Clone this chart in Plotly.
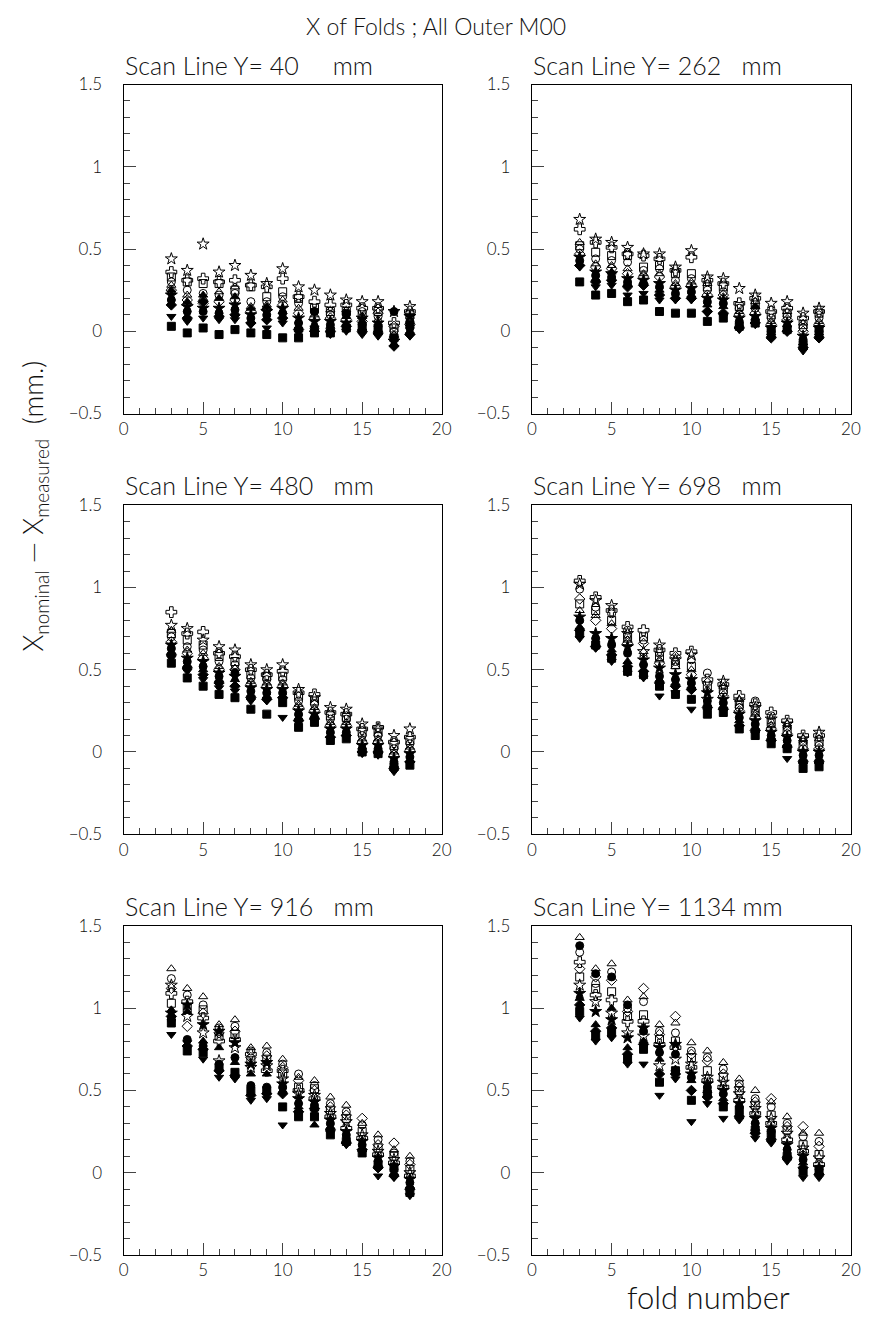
import plotly.graph_objects as go

W, H = 877, 1323

folds = list(range(3, 19))

panel_titles = ["Scan Line Y= 40\u00a0\u00a0\u00a0\u00a0\u00a0mm", "Scan Line Y= 262\u00a0\u00a0\u00a0mm",
                "Scan Line Y= 480\u00a0\u00a0\u00a0mm", "Scan Line Y= 698\u00a0\u00a0\u00a0mm",
                "Scan Line Y= 916\u00a0\u00a0\u00a0mm", "Scan Line Y= 1134 mm"]

marker_symbols = ["star-open", "cross-open", "square-open", "circle-open", "triangle-up-open",
                  "diamond-open", "star", "circle", "triangle-up", "diamond", "triangle-down", "square"]

# ---- Scan line Y = 40 mm ----
y40_star_open = [0.44, 0.37, 0.53, 0.36, 0.40, 0.34, 0.29, 0.38, 0.27, 0.25, 0.22, 0.19, 0.18, 0.18, 0.12, 0.15]
y40_cross_open = [0.36, 0.31, 0.32, 0.30, 0.31, 0.28, 0.27, 0.32, 0.21, 0.18, 0.16, 0.16, 0.14, 0.14, 0.05, 0.12]
y40_square_open = [0.33, 0.30, 0.29, 0.29, 0.25, 0.27, 0.21, 0.24, 0.20, 0.14, 0.12, 0.12, 0.10, 0.12, 0.02, 0.10]
y40_circle_open = [0.30, 0.25, 0.23, 0.22, 0.23, 0.18, 0.18, 0.21, 0.17, 0.12, 0.10, 0.10, 0.12, 0.09, 0.00, 0.08]
y40_tri_open = [0.28, 0.22, 0.20, 0.24, 0.27, 0.15, 0.16, 0.19, 0.14, 0.10, 0.13, 0.13, 0.09, 0.07, -0.02, 0.06]
y40_diamond_open = [0.25, 0.19, 0.17, 0.18, 0.19, 0.12, 0.13, 0.16, 0.11, 0.08, 0.08, 0.07, 0.06, 0.11, 0.03, 0.04]
y40_star = [0.22, 0.15, 0.14, 0.14, 0.16, 0.10, 0.12, 0.14, 0.08, 0.06, 0.06, 0.05, 0.08, 0.05, -0.06, 0.09]
y40_circle = [0.19, 0.12, 0.12, 0.11, 0.13, 0.08, 0.10, 0.11, 0.05, 0.12, 0.04, 0.11, 0.04, 0.03, 0.12, 0.02]
y40_tri = [0.25, 0.18, 0.22, 0.20, 0.21, 0.14, 0.15, 0.12, 0.03, 0.03, 0.03, 0.09, 0.02, 0.01, -0.08, 0.00]
y40_diamond = [0.16, 0.08, 0.18, 0.09, 0.10, 0.05, 0.07, 0.08, 0.01, 0.00, 0.00, 0.03, 0.00, -0.01, -0.09, -0.02]
y40_tri_down = [0.09, 0.06, 0.08, 0.07, 0.07, 0.04, 0.02, 0.05, -0.01, 0.02, -0.02, 0.00, -0.02, -0.03, -0.05, -0.03]
y40_square = [0.03, -0.01, 0.02, -0.02, 0.01, -0.01, -0.02, -0.04, -0.04, -0.01, -0.01, 0.02, 0.03, 0.02, -0.04, 0.04]

# ---- Scan line Y = 262 mm ----
y262_star_open = [0.68, 0.56, 0.54, 0.51, 0.47, 0.47, 0.39, 0.49, 0.33, 0.32, 0.26, 0.22, 0.17, 0.18, 0.11, 0.14]
y262_cross_open = [0.62, 0.54, 0.51, 0.47, 0.46, 0.44, 0.37, 0.45, 0.31, 0.29, 0.17, 0.20, 0.12, 0.14, 0.08, 0.12]
y262_square_open = [0.52, 0.48, 0.46, 0.46, 0.39, 0.40, 0.35, 0.35, 0.27, 0.27, 0.15, 0.16, 0.10, 0.11, 0.04, 0.11]
y262_circle_open = [0.50, 0.44, 0.43, 0.42, 0.37, 0.38, 0.31, 0.32, 0.25, 0.24, 0.14, 0.14, 0.08, 0.09, 0.02, 0.08]
y262_tri_open = [0.54, 0.41, 0.40, 0.38, 0.35, 0.35, 0.29, 0.30, 0.29, 0.21, 0.12, 0.18, 0.06, 0.12, 0.05, 0.06]
y262_diamond_open = [0.47, 0.39, 0.38, 0.35, 0.33, 0.33, 0.27, 0.28, 0.22, 0.22, 0.10, 0.11, 0.04, 0.07, 0.00, 0.04]
y262_star = [0.45, 0.36, 0.35, 0.32, 0.31, 0.29, 0.25, 0.26, 0.20, 0.19, 0.08, 0.09, 0.02, 0.05, -0.03, 0.02]
y262_circle = [0.43, 0.34, 0.33, 0.30, 0.29, 0.27, 0.23, 0.24, 0.18, 0.17, 0.06, 0.07, 0.00, 0.03, -0.05, 0.00]
y262_tri = [0.41, 0.32, 0.36, 0.29, 0.30, 0.25, 0.21, 0.22, 0.16, 0.15, 0.04, 0.15, -0.02, 0.01, -0.07, -0.02]
y262_diamond = [0.40, 0.30, 0.31, 0.27, 0.28, 0.22, 0.20, 0.20, 0.12, 0.11, 0.02, 0.05, -0.04, 0.00, -0.10, -0.04]
y262_tri_down = [0.39, 0.27, 0.28, 0.22, 0.23, 0.19, 0.19, 0.19, 0.11, 0.09, 0.01, 0.04, -0.03, 0.02, -0.12, -0.03]
y262_square = [0.30, 0.22, 0.23, 0.18, 0.19, 0.12, 0.11, 0.11, 0.06, 0.08, 0.03, 0.05, 0.01, 0.01, -0.08, 0.01]

# ---- Scan line Y = 480 mm ----
y480_star_open = [0.77, 0.75, 0.68, 0.64, 0.62, 0.53, 0.50, 0.53, 0.38, 0.33, 0.27, 0.26, 0.17, 0.14, 0.10, 0.14]
y480_cross_open = [0.85, 0.72, 0.73, 0.60, 0.58, 0.50, 0.47, 0.49, 0.36, 0.35, 0.24, 0.23, 0.14, 0.15, 0.06, 0.09]
y480_square_open = [0.72, 0.68, 0.65, 0.58, 0.55, 0.47, 0.46, 0.46, 0.34, 0.31, 0.22, 0.21, 0.12, 0.12, 0.04, 0.07]
y480_circle_open = [0.70, 0.64, 0.62, 0.55, 0.53, 0.45, 0.44, 0.44, 0.31, 0.29, 0.20, 0.20, 0.10, 0.10, 0.02, 0.05]
y480_tri_open = [0.74, 0.62, 0.60, 0.52, 0.51, 0.43, 0.42, 0.42, 0.29, 0.27, 0.18, 0.18, 0.08, 0.08, 0.00, 0.03]
y480_diamond_open = [0.67, 0.60, 0.57, 0.50, 0.50, 0.41, 0.40, 0.40, 0.27, 0.25, 0.16, 0.16, 0.06, 0.06, -0.02, 0.01]
y480_star = [0.65, 0.57, 0.55, 0.48, 0.46, 0.39, 0.38, 0.38, 0.25, 0.23, 0.14, 0.14, 0.04, 0.04, -0.04, -0.01]
y480_circle = [0.63, 0.55, 0.52, 0.46, 0.48, 0.37, 0.36, 0.36, 0.23, 0.21, 0.12, 0.12, 0.02, 0.02, -0.06, -0.03]
y480_tri = [0.61, 0.53, 0.50, 0.44, 0.44, 0.35, 0.34, 0.34, 0.21, 0.22, 0.10, 0.11, 0.01, 0.01, -0.08, -0.05]
y480_diamond = [0.59, 0.51, 0.47, 0.42, 0.40, 0.33, 0.32, 0.33, 0.19, 0.20, 0.09, 0.10, 0.00, 0.00, -0.10, -0.06]
y480_tri_down = [0.57, 0.49, 0.44, 0.39, 0.37, 0.31, 0.31, 0.21, 0.18, 0.19, 0.08, 0.09, -0.01, -0.02, -0.12, -0.07]
y480_square = [0.54, 0.45, 0.40, 0.35, 0.33, 0.26, 0.23, 0.30, 0.15, 0.18, 0.07, 0.08, 0.00, -0.01, -0.09, -0.08]

# ---- Scan line Y = 698 mm ----
y698_star_open = [1.02, 0.92, 0.89, 0.72, 0.61, 0.65, 0.56, 0.59, 0.32, 0.43, 0.31, 0.27, 0.20, 0.17, 0.08, 0.12]
y698_cross_open = [1.04, 0.94, 0.86, 0.76, 0.74, 0.62, 0.60, 0.61, 0.44, 0.41, 0.34, 0.29, 0.24, 0.19, 0.10, 0.10]
y698_square_open = [0.90, 0.86, 0.80, 0.70, 0.70, 0.58, 0.53, 0.52, 0.40, 0.38, 0.29, 0.25, 0.18, 0.13, 0.04, 0.06]
y698_circle_open = [0.99, 0.88, 0.84, 0.74, 0.68, 0.60, 0.55, 0.56, 0.48, 0.36, 0.27, 0.31, 0.22, 0.15, 0.06, 0.04]
y698_tri_open = [0.86, 0.83, 0.78, 0.68, 0.61, 0.56, 0.52, 0.50, 0.38, 0.40, 0.32, 0.23, 0.16, 0.17, 0.08, 0.08]
y698_diamond_open = [0.93, 0.80, 0.75, 0.66, 0.66, 0.54, 0.58, 0.47, 0.42, 0.34, 0.25, 0.21, 0.14, 0.11, 0.02, 0.02]
y698_star = [0.82, 0.72, 0.69, 0.64, 0.56, 0.51, 0.47, 0.44, 0.36, 0.32, 0.23, 0.19, 0.12, 0.09, 0.00, 0.00]
y698_circle = [0.80, 0.69, 0.65, 0.60, 0.53, 0.46, 0.44, 0.42, 0.31, 0.30, 0.21, 0.17, 0.10, 0.07, -0.02, -0.02]
y698_tri = [0.76, 0.66, 0.62, 0.55, 0.50, 0.44, 0.42, 0.40, 0.29, 0.28, 0.19, 0.15, 0.09, 0.05, -0.04, -0.04]
y698_diamond = [0.74, 0.64, 0.59, 0.52, 0.49, 0.42, 0.40, 0.38, 0.27, 0.26, 0.16, 0.13, 0.07, 0.03, -0.06, -0.06]
y698_tri_down = [0.69, 0.63, 0.55, 0.48, 0.45, 0.34, 0.36, 0.26, 0.25, 0.25, 0.15, 0.11, 0.06, -0.04, -0.08, -0.08]
y698_square = [0.72, 0.65, 0.57, 0.49, 0.47, 0.40, 0.35, 0.32, 0.23, 0.24, 0.14, 0.10, 0.05, 0.02, -0.10, -0.09]

# ---- Scan line Y = 916 mm ----
y916_star_open = [1.14, 0.95, 0.85, 0.68, 0.76, 0.64, 0.65, 0.57, 0.48, 0.47, 0.36, 0.31, 0.23, 0.13, 0.08, 0.00]
y916_cross_open = [1.09, 1.04, 0.94, 0.80, 0.81, 0.72, 0.62, 0.62, 0.50, 0.45, 0.34, 0.27, 0.21, 0.11, 0.06, -0.02]
y916_square_open = [1.03, 1.00, 0.99, 0.83, 0.84, 0.68, 0.69, 0.60, 0.52, 0.51, 0.38, 0.33, 0.25, 0.15, 0.10, 0.02]
y916_circle_open = [1.18, 1.08, 1.02, 0.88, 0.89, 0.74, 0.73, 0.66, 0.60, 0.53, 0.42, 0.37, 0.29, 0.20, 0.12, 0.07]
y916_tri_open = [1.24, 1.12, 1.07, 0.90, 0.93, 0.76, 0.77, 0.69, 0.58, 0.56, 0.46, 0.41, 0.30, 0.23, 0.14, 0.10]
y916_diamond_open = [1.12, 0.89, 0.97, 0.85, 0.86, 0.70, 0.71, 0.64, 0.56, 0.50, 0.40, 0.35, 0.33, 0.17, 0.18, 0.05]
y916_star = [0.97, 1.02, 0.90, 0.86, 0.79, 0.66, 0.67, 0.54, 0.45, 0.43, 0.32, 0.25, 0.19, 0.09, 0.04, -0.04]
y916_circle = [0.93, 0.81, 0.77, 0.66, 0.70, 0.53, 0.52, 0.52, 0.42, 0.41, 0.30, 0.23, 0.17, 0.07, 0.02, -0.06]
y916_tri = [0.99, 0.98, 0.80, 0.76, 0.67, 0.60, 0.60, 0.50, 0.40, 0.29, 0.28, 0.20, 0.15, 0.05, 0.00, -0.08]
y916_diamond = [0.95, 0.77, 0.75, 0.62, 0.59, 0.47, 0.48, 0.48, 0.37, 0.39, 0.26, 0.18, 0.14, 0.03, -0.02, -0.10]
y916_tri_down = [0.84, 0.79, 0.69, 0.58, 0.57, 0.44, 0.45, 0.29, 0.36, 0.37, 0.24, 0.17, 0.12, -0.02, -0.03, -0.14]
y916_square = [0.91, 0.74, 0.73, 0.64, 0.61, 0.50, 0.50, 0.40, 0.34, 0.34, 0.23, 0.19, 0.12, 0.05, 0.03, -0.12]

# ---- Scan line Y = 1134 mm ----
y1134_star_open = [1.14, 1.04, 0.97, 0.85, 0.83, 0.65, 0.69, 0.66, 0.58, 0.55, 0.48, 0.39, 0.33, 0.24, 0.15, 0.09]
y1134_cross_open = [1.28, 1.08, 1.05, 0.92, 0.92, 0.78, 0.76, 0.64, 0.56, 0.52, 0.44, 0.36, 0.30, 0.20, 0.13, 0.05]
y1134_square_open = [1.19, 1.12, 1.10, 0.95, 0.96, 0.81, 0.80, 0.70, 0.62, 0.58, 0.50, 0.41, 0.35, 0.26, 0.17, 0.11]
y1134_circle_open = [1.34, 1.15, 1.22, 1.00, 1.04, 0.86, 0.85, 0.74, 0.70, 0.63, 0.54, 0.45, 0.40, 0.30, 0.22, 0.19]
y1134_tri_open = [1.43, 1.24, 1.27, 1.05, 1.07, 0.90, 0.91, 0.79, 0.74, 0.67, 0.57, 0.50, 0.43, 0.34, 0.24, 0.24]
y1134_diamond_open = [1.24, 1.19, 1.17, 0.98, 1.12, 0.84, 0.95, 0.72, 0.68, 0.60, 0.52, 0.43, 0.45, 0.28, 0.28, 0.16]
y1134_star = [1.09, 0.98, 0.93, 0.82, 0.88, 0.76, 0.78, 0.60, 0.54, 0.50, 0.42, 0.33, 0.27, 0.17, 0.10, 0.03]
y1134_circle = [1.38, 1.21, 1.19, 1.02, 0.86, 0.73, 0.72, 0.58, 0.52, 0.48, 0.40, 0.30, 0.25, 0.14, 0.08, 0.02]
y1134_tri = [1.06, 0.90, 1.00, 0.76, 0.80, 0.69, 0.63, 0.56, 0.50, 0.45, 0.36, 0.27, 0.22, 0.11, 0.06, 0.00]
y1134_diamond = [1.02, 0.86, 0.88, 0.72, 0.78, 0.60, 0.60, 0.50, 0.46, 0.42, 0.34, 0.24, 0.20, 0.09, 0.03, -0.01]
y1134_tri_down = [0.94, 0.80, 0.82, 0.66, 0.66, 0.47, 0.57, 0.31, 0.42, 0.33, 0.32, 0.21, 0.18, 0.07, -0.03, -0.03]
y1134_square = [0.98, 0.83, 0.85, 0.69, 0.75, 0.55, 0.62, 0.44, 0.48, 0.40, 0.38, 0.26, 0.24, 0.10, 0.01, 0.02]

panels = [
    [y40_star_open, y40_cross_open, y40_square_open, y40_circle_open, y40_tri_open, y40_diamond_open,
     y40_star, y40_circle, y40_tri, y40_diamond, y40_tri_down, y40_square],
    [y262_star_open, y262_cross_open, y262_square_open, y262_circle_open, y262_tri_open, y262_diamond_open,
     y262_star, y262_circle, y262_tri, y262_diamond, y262_tri_down, y262_square],
    [y480_star_open, y480_cross_open, y480_square_open, y480_circle_open, y480_tri_open, y480_diamond_open,
     y480_star, y480_circle, y480_tri, y480_diamond, y480_tri_down, y480_square],
    [y698_star_open, y698_cross_open, y698_square_open, y698_circle_open, y698_tri_open, y698_diamond_open,
     y698_star, y698_circle, y698_tri, y698_diamond, y698_tri_down, y698_square],
    [y916_star_open, y916_cross_open, y916_square_open, y916_circle_open, y916_tri_open, y916_diamond_open,
     y916_star, y916_circle, y916_tri, y916_diamond, y916_tri_down, y916_square],
    [y1134_star_open, y1134_cross_open, y1134_square_open, y1134_circle_open, y1134_tri_open, y1134_diamond_open,
     y1134_star, y1134_circle, y1134_tri, y1134_diamond, y1134_tri_down, y1134_square],
]

# ---- layout geometry (pixels) ----
col_left = [120.7, 536.0]
col_right = [444.3, 860.7]
row_top = [74.7, 502.2, 929.7]
plot_h = 334.3

FONT = "Lato, DejaVu Sans, sans-serif"
INK = "#000000"
TXT = "#111111"

fig = go.Figure()
layout = dict(
    width=W, height=H, margin=dict(l=0, r=0, t=0, b=0),
    paper_bgcolor="white", plot_bgcolor="white", showlegend=False,
    font=dict(family=FONT, color=TXT, size=16, weight=300),
)
annotations = []

for i, series in enumerate(panels):
    r, c = divmod(i, 2)
    ax = "" if i == 0 else str(i + 1)
    xd = [col_left[c] / W, col_right[c] / W]
    yd = [1 - (row_top[r] + plot_h) / H, 1 - row_top[r] / H]
    for vals, sym in zip(series, marker_symbols):
        size = 9 if "star" in sym or "cross" in sym else 8
        fig.add_trace(go.Scatter(
            x=folds, y=vals, mode="markers", xaxis="x" + ax, yaxis="y" + ax,
            marker=dict(symbol=sym, size=size, color=INK, line=dict(color=INK, width=1)),
            hoverinfo="skip",
        ))
    layout["xaxis" + ax] = dict(
        domain=xd, anchor="y" + ax, range=[0, 20], tickvals=[0, 5, 10, 15, 20],
        ticks="inside", ticklen=12, tickwidth=1, tickcolor="#444444",
        minor=dict(dtick=1, tick0=0, ticks="inside", ticklen=6, tickcolor="#444444"),
        showgrid=False, zeroline=False, showline=True, mirror=True, linecolor=INK, linewidth=1,
        tickfont=dict(size=17, family=FONT, color=TXT, weight=300), ticklabelstandoff=0,
    )
    layout["yaxis" + ax] = dict(
        domain=yd, anchor="x" + ax, range=[-0.5, 1.5], tickvals=[-0.5, 0, 0.5, 1, 1.5],
        ticktext=["\u22120.5", "0", "0.5", "1", "1.5"],
        ticks="inside", ticklen=12, tickwidth=1, tickcolor="#444444",
        minor=dict(dtick=0.1, tick0=0, ticks="inside", ticklen=6, tickcolor="#444444"),
        showgrid=False, zeroline=False, showline=True, mirror=True, linecolor=INK, linewidth=1,
        tickfont=dict(size=17, family=FONT, color=TXT, weight=300), ticklabelstandoff=17,
    )
    annotations.append(dict(
        text=panel_titles[i], xref="paper", yref="paper",
        x=(col_left[c] - 1) / W, y=1 - (row_top[r] - 3) / H,
        xanchor="left", yanchor="bottom", showarrow=False,
        font=dict(size=25, family=FONT, color=TXT, weight=300),
    ))

annotations.append(dict(
    text="X of Folds ; All Outer M00", xref="paper", yref="paper",
    x=0.5, y=1 - 15 / H, xanchor="center", yanchor="middle", showarrow=False,
    font=dict(size=23, family=FONT, color=TXT, weight=300),
))
annotations.append(dict(
    text="X<sub>nominal</sub> \u2014 X<sub>measured</sub>  (mm.)", xref="paper", yref="paper",
    x=30 / W, y=1 - 503 / H, xanchor="center", yanchor="middle", textangle=-90, showarrow=False,
    font=dict(size=27, family=FONT, color=TXT, weight=300),
))
annotations.append(dict(
    text="fold number", xref="paper", yref="paper",
    x=716 / W, y=1 - 1307 / H, xanchor="center", yanchor="middle", showarrow=False,
    font=dict(size=31, family=FONT, color=TXT, weight=300),
))
layout["annotations"] = annotations
fig.update_layout(**layout)
fig.write_html("out.html")
